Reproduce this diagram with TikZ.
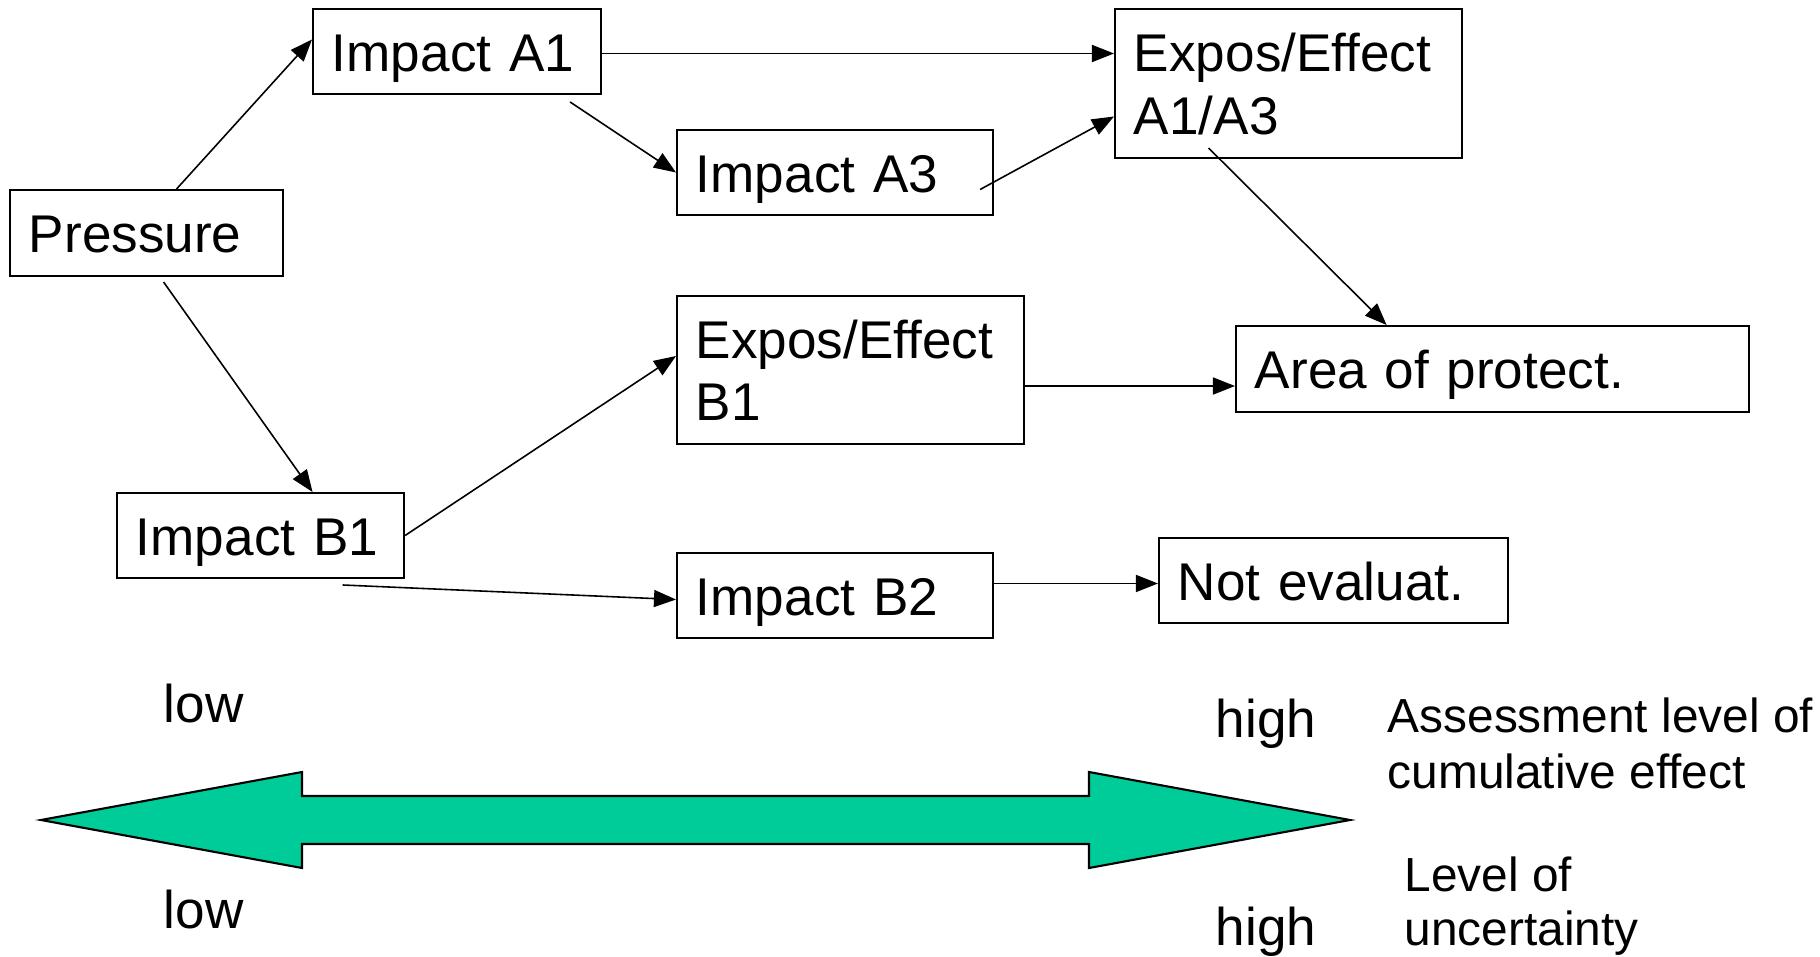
\documentclass[tikz,border=0pt]{standalone}
\usepackage{fontspec}
\setmainfont{Liberation Sans}
\usepackage{tikz}
\usetikzlibrary{positioning,arrows.meta,calc}
\definecolor{arrowgreen}{RGB}{0,204,153}
\newcommand{\boxfont}{\fontsize{15.1pt}{17.9pt}\selectfont}
\newcommand{\sidefont}{\fontsize{13.6pt}{15.9pt}\selectfont}

\begin{document}
\begin{tikzpicture}[x=0.01cm,y=-0.01cm,
  box/.style 2 args={draw, line width=0.55pt, anchor=north west, inner xsep=0.19cm, inner ysep=0pt,
    text width=#1, minimum height=#2, align=left, text height=0.39cm, text depth=0pt, font=\boxfont},
  link/.style={line width=0.45pt, -{Triangle[length=0.22cm,width=0.17cm]}},
  lbl/.style={anchor=base west, inner sep=0pt, font=\boxfont}]
\useasboundingbox (0,0) rectangle (1820,957);
% boxes
\node[box={2.35cm}{0.86cm}] (pressure) at (9,189) {Pressure};
\node[box={2.50cm}{0.85cm}] (a1) at (312,8) {Impact A1};
\node[box={3.09cm}{1.49cm}, text depth=0.63cm] (e13) at (1114,8) {Expos/Effect\\A1/A3};
\node[box={2.78cm}{0.85cm}] (a3) at (676,129) {Impact A3};
\node[box={3.09cm}{1.48cm}, text depth=0.63cm] (eb1) at (676,295) {Expos/Effect\\B1};
\node[box={4.75cm}{0.86cm}] (area) at (1235,325) {Area of protect.};
\node[box={2.49cm}{0.85cm}] (b1) at (116,492) {Impact B1};
\node[box={2.78cm}{0.85cm}] (b2) at (676,552) {Impact B2};
\node[box={3.11cm}{0.85cm}] (noteval) at (1158,537) {Not evaluat.};
% connectors
\draw[link] ([shift={(30,0)}]pressure.north) -- ([shift={(0,-12)}]a1.west);
\draw[link] ([shift={(17,5)}]pressure.south) -- ([shift={(52,0)}]b1.north);
\draw[link] ([shift={(0,2)}]a1.east) -- ([shift={(0,2)}]a1.east -| e13.west);
\draw[link] ([shift={(113,7)}]a1.south) -- (a3.west);
\draw[link] ([shift={(-14,17)}]a3.east) -- ([shift={(0,33)}]e13.west);
\draw[link] ([shift={(-80,-11)}]e13.south) -- ([shift={(-106,0)}]area.north);
\draw[link] ([shift={(0,16)}]eb1.east) -- ([shift={(0,16)}]eb1.east -| area.west);
\draw[link] (b1.east) -- ([shift={(0,-14)}]eb1.west);
\draw[link] ([shift={(82,6)}]b1.south) -- ([shift={(0,4)}]b2.west);
\draw[link] ([shift={(0,-12)}]b2.east) -- ([shift={(0,-12)}]b2.east -| noteval.west);
% scale arrow
\draw[line width=0.6pt, fill=arrowgreen] (41,820) -- (302,772) -- (302,796) -- (1089,796) -- (1089,772)
  -- (1350,820) -- (1089,868) -- (1089,844) -- (302,844) -- (302,868) -- cycle;
\node[lbl] (lowtop) at (163,722) {low};
\node[lbl] (lowbot) at (163,928) {low};
\node[lbl] (hightop) at (1215,737) {high};
\node[lbl] (highbot) at (1215,945) {high};
\node[lbl, font=\sidefont, align=left] (assess) at (1387,788) {Assessment level of\\cumulative effect};
\node[lbl, font=\fontsize{13.6pt}{15.1pt}\selectfont, align=left] (uncert) at (1404,945) {Level of\\uncertainty};
\end{tikzpicture}
\end{document}
